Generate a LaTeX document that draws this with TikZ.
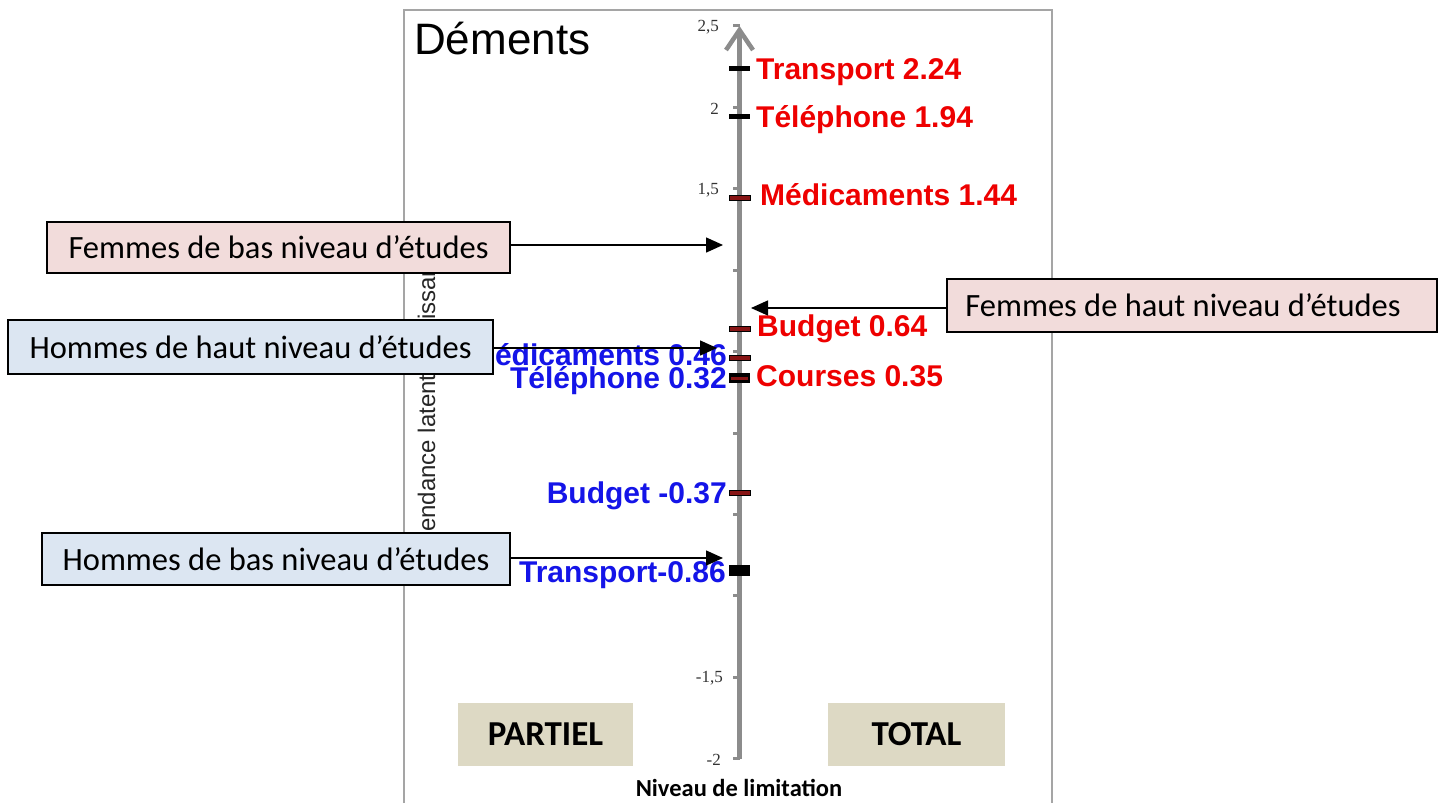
\documentclass[tikz,border=0pt]{standalone}
\usepackage{fontspec}
\setmainfont{Liberation Sans}
\newfontfamily\calib{Carlito}
\newfontfamily\numserif{Liberation Serif}
\usetikzlibrary{arrows.meta}

\definecolor{framegray}{RGB}{165,165,165}
\definecolor{axisgray}{RGB}{140,140,140}
\definecolor{pinkfill}{RGB}{242,220,219}
\definecolor{bluefill}{RGB}{220,230,242}
\definecolor{tagfill}{RGB}{221,217,196}
\definecolor{lblred}{RGB}{238,0,0}
\definecolor{lblblue}{RGB}{20,20,232}
\definecolor{mkred}{RGB}{135,20,20}

% value on the limitation scale -> vertical position
\newcommand{\yv}[1]{433-162.9*(#1)}

\begin{document}
\begin{tikzpicture}[x=1pt,y=-1pt,
  frameline/.style={draw=framegray, line width=2.5pt},
  axisline/.style={draw=axisgray, line width=4.5pt, -{Straight Barb[length=20pt,width=27pt]}},
  axtick/.style={draw=axisgray, line width=3pt},
  ticklbl/.style={font=\numserif\fontsize{17}{19}\selectfont, text=black!80, inner sep=0pt, anchor=east},
  blackmark/.style={fill=black},
  redmark/.style={fill=mkred, draw=black, line width=1pt},
  redlbl/.style={text=lblred, font=\bfseries\fontsize{30}{34}\selectfont, inner sep=0pt, anchor=base west},
  bluelbl/.style={text=lblblue, font=\bfseries\fontsize{30}{34}\selectfont, inner sep=0pt, anchor=base east},
  callout/.style={draw=black, line width=1.6pt, inner sep=0pt,
    font=\calib\fontsize{32.5}{37}\selectfont},
  pointer/.style={draw=black, line width=1.5pt, -{Triangle[length=17pt,width=15pt]}},
  tagbox/.style={fill=tagfill, inner sep=0pt, minimum height=63pt,
    font=\calib\bfseries\fontsize{35}{40}\selectfont}
]
\useasboundingbox (0,0) rectangle (1445,803);
\fill[white] (0,0) rectangle (1445,803);

% chart frame (open at the bottom)
\draw[frameline] (404,803) -- (404,10) -- (1052,10) -- (1052,803);

% title and vertical axis caption
\node[anchor=base west, inner sep=0pt, font=\fontsize{44}{48}\selectfont] (title) at (414,54) {Déments};
\node[rotate=90, anchor=base west, inner sep=0pt, text=black!85,
      font=\fontsize{24}{28}\selectfont] (ycap) at (435,576) {Dépendance latente (puissance};

% axis with ticks every 0.5
\coordinate (axbot) at (739.5,759);
\coordinate (axtop) at (739.5,26);
\foreach \v in {2.5,2,1.5,1,0.5,0,-0.5,-1,-1.5,-2}
  \draw[axtick] (740,{\yv{\v}}) -- (733,{\yv{\v}});
\draw[axisline] (axbot) -- (axtop);

\node[ticklbl] (t25) at (719,27) {2,5};
\node[ticklbl] (t20) at (719,109) {2};
\node[ticklbl] (t15) at (719,190) {1,5};
\node[ticklbl] (tm15) at (723,678) {-1,5};
\node[ticklbl] (tm20) at (721,760) {-2};

% item thresholds on the axis
\path[blackmark] (729,{\yv{2.24}-2.5}) rectangle (750,{\yv{2.24}+2.5});
\path[blackmark] (729,{\yv{1.94}-2.5}) rectangle (750,{\yv{1.94}+2.5});
\path[redmark]   (729,{\yv{1.44}-2.5}) rectangle (750,{\yv{1.44}+2.5});
\path[redmark]   (729,{\yv{0.64}-2.5}) rectangle (750,{\yv{0.64}+2.5});
\path[redmark]   (729,{\yv{0.46}-2.5}) rectangle (750,{\yv{0.46}+2.5});
\path[blackmark] (729,373) rectangle (750,383);
\path[fill=mkred] (731,376.5) rectangle (748,379.5);
\path[redmark]   (729,{\yv{-0.37}-2.5}) rectangle (750,{\yv{-0.37}+2.5});
\path[blackmark] (729,565) rectangle (750,576);

% item labels: women (right), men (left)
\node[redlbl] (rTr) at (756,79) {Transport 2.24};
\node[redlbl] (rTe) at (756,127) {Téléphone 1.94};
\node[redlbl] (rMe) at (760,205) {Médicaments 1.44};
\node[redlbl] (rBu) at (757,336) {Budget 0.64};
\node[redlbl] (rCo) at (756,386) {Courses 0.35};

\node[bluelbl] (bMe) at (727,365) {Médicaments 0.46};
\node[bluelbl] (bTe) at (727,388) {Téléphone 0.32};
\node[bluelbl] (bBu) at (727,503) {Budget -0.37};
\node[bluelbl] (bTr) at (726,582) {Transport-0.86};

% group call-outs and their pointers
\node[callout, fill=pinkfill, minimum width=463pt, minimum height=51pt] (fb) at (278.5,247.5) {Femmes de bas niveau d’études};
\node[callout, fill=bluefill, minimum width=485pt, minimum height=54pt] (hh) at (250.5,347) {Hommes de haut niveau d’études};
\node[callout, fill=pinkfill, minimum width=490pt, minimum height=53pt] (fh) at (1192,305.5) {Femmes de haut niveau d’études\hspace*{18pt}};
\node[callout, fill=bluefill, minimum width=468pt, minimum height=52pt] (hb) at (276,559) {Hommes de bas niveau d’études};

\coordinate (pfb) at (723,245);
\coordinate (phh) at (717,348);
\coordinate (pfh) at (751,308);
\coordinate (phb) at (723,558);
\draw[pointer] (fb.east |- pfb) -- (pfb);
\draw[pointer] (hh.east |- phh) -- (phh);
\draw[pointer] (fh.west |- pfh) -- (pfh);
\draw[pointer] (hb.east |- phb) -- (phb);

% limitation level scale
\node[tagbox, minimum width=175pt] (partiel) at (545.5,734.5) {PARTIEL};
\node[tagbox, minimum width=177pt] (total) at (916.5,734.5) {TOTAL};
\node[inner sep=0pt, font=\calib\bfseries\fontsize{24.5}{28}\selectfont] (xcap) at (739,788) {Niveau de limitation};
\end{tikzpicture}
\end{document}
